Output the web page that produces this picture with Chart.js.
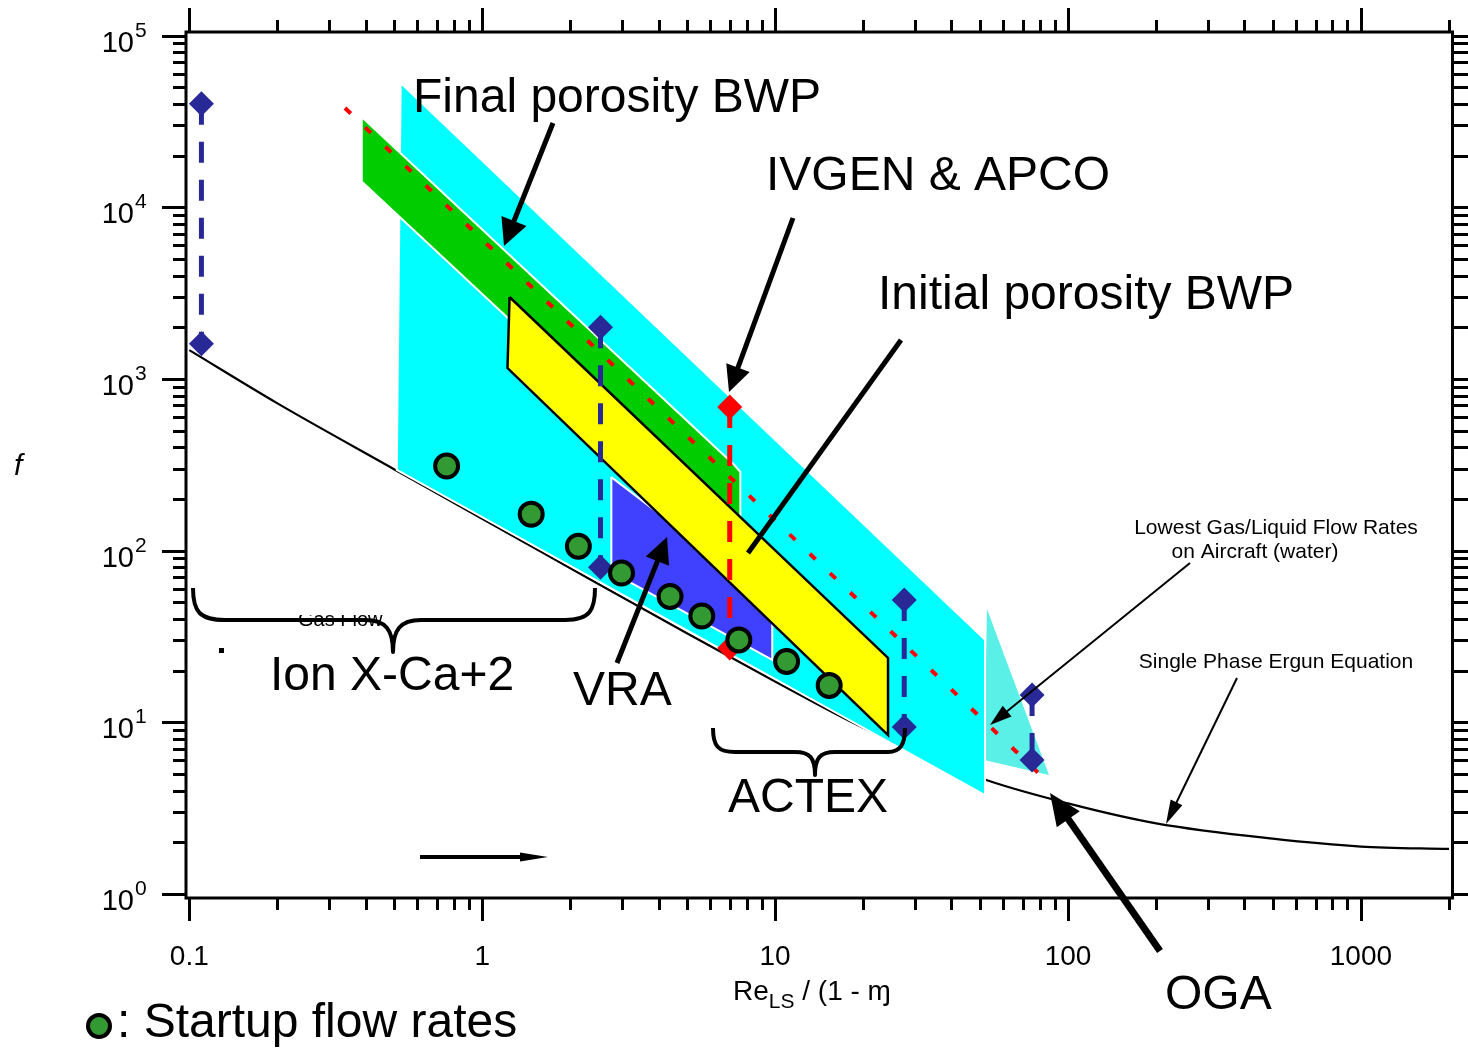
<!DOCTYPE html>
<html><head><meta charset="utf-8">
<script src="https://cdn.jsdelivr.net/npm/chart.js@4.4.0/dist/chart.umd.min.js"></script>
<style>html,body{margin:0;padding:0;background:#fff;overflow:hidden}canvas{display:block}</style>
</head><body>
<canvas id="c" width="1468" height="1049"></canvas>
<script>
// ---------- data ----------
const xTickValues = [0.1, 1, 10, 100, 1000];
const xTickLabels = ['0.1', '1', '10', '100', '1000'];
const yTickValues = [1, 10, 100, 1000, 10000, 100000];
const yTickExponents = ['0', '1', '2', '3', '4', '5'];

// Single phase Ergun equation
const ergunX = [0.1, 0.2, 0.5, 1, 2, 5, 10, 20, 50, 100, 200, 500, 1000, 2000];
const ergunF = [1470, 720, 298, 153, 79, 33, 17.3, 9.3, 4.75, 3.37, 2.58, 2.1, 1.89, 1.83];

// Startup flow rates (green circles)
const startupX = [0.756, 1.47, 2.13, 2.99, 4.38, 5.62, 7.52, 10.95, 15.3];
const startupF = [311, 163, 106, 74, 54, 41.6, 30.2, 22.6, 16.4];

// Cyan envelope region
const envelopeX = [0.527, 52.1, 52.1, 0.511];
const envelopeF = [52900, 30.2, 3.77, 295];

// OGA region (light cyan)
const ogaX = [52.9, 86.1, 51.7];
const ogaF = [45.7, 4.93, 6.03];

// Final porosity BWP (green band)
const finalPorosityX = [0.388, 7.26, 7.61, 7.61, 0.386];
const finalPorosityF = [33530, 315, 287, 123.3, 14210];

// VRA (blue region)
const vraX = [2.76, 9.78, 9.78, 2.76];
const vraF = [268, 51.6, 23.1, 75.0];

// Initial porosity BWP (yellow band)
const initialPorosityX = [1.24, 24.3, 24.3, 1.22];
const initialPorosityF = [3000, 23.7, 8.43, 1157];

// Lowest gas/liquid flow rates on aircraft (red dotted line)
const lowestFlowX = [0.34, 87.5];
const lowestFlowF = [37840, 4.31];

// Flow ranges (navy diamonds with dashed lines)
const ionRangeX = [0.11, 0.11];
const ionRangeF = [40000, 1600];
const vraRangeX = [2.535, 2.535];
const vraRangeF = [2000, 80];
const actexRangeX = [27.6, 27.6];
const actexRangeF = [51.6, 9.39];
const ogaRangeX = [75.4, 75.4];
const ogaRangeF = [14.4, 6.03];
// IVGEN & APCO (red diamonds)
const ivgenX = [7.0, 7.0];
const ivgenF = [686, 27.1];

// ---------- helpers ----------
const FONT = '"Liberation Sans", Arial, Helvetica, sans-serif';
const pts = (xs, ys) => xs.map((x, i) => ({x: x, y: ys[i]}));
const closed = (xs, ys) => { const p = pts(xs, ys); p.push(p[0]); return p; };
const NAVY = '#282896';

function polygon(data, fillColor, borderColor, borderWidth, order) {
  return {data, showLine: true, fill: 'shape', backgroundColor: fillColor,
    borderColor, borderWidth, pointRadius: 0, order, borderJoinStyle: 'miter', tension: 0};
}
function range(xs, ys, color, order) {
  return {data: pts(xs, ys), showLine: true, fill: false, borderColor: color, borderWidth: 5,
    borderDash: [21, 17], pointStyle: 'rectRot', pointRadius: 12.5, pointBackgroundColor: color,
    pointBorderWidth: 0, order};
}

const datasets = [
  {label: 'Ergun', data: pts(ergunX, ergunF), showLine: true, fill: false, borderColor: '#000',
    borderWidth: 2.2, pointRadius: 0, cubicInterpolationMode: 'monotone', order: 20},
  polygon(pts(ogaX, ogaF), '#5AF0E8', 'rgba(0,0,0,0)', 0, 19),
  polygon(closed(envelopeX, envelopeF), '#00FFFF', '#FFFFFF', 2, 18),
  polygon(closed(finalPorosityX, finalPorosityF), '#00CC00', '#FFFFFF', 2, 17),
  {data: pts(lowestFlowX, lowestFlowF), showLine: true, fill: false, borderColor: '#FF0000',
    borderWidth: 4, borderDash: [8, 20], pointRadius: 0, order: 16},
  polygon(closed(vraX, vraF), '#4040FF', '#FFFFFF', 2, 15),
  polygon(closed(initialPorosityX, initialPorosityF), '#FFFF00', '#000000', 2.5, 14),
  range(ionRangeX, ionRangeF, NAVY, 5),
  range(vraRangeX, vraRangeF, NAVY, 5),
  range(actexRangeX, actexRangeF, NAVY, 5),
  range(ogaRangeX, ogaRangeF, NAVY, 5),
  range(ivgenX, ivgenF, '#FF0000', 5),
  {data: pts(startupX, startupF), showLine: false, pointStyle: 'circle', pointRadius: 11.5,
    pointBackgroundColor: '#339933', pointBorderColor: '#000', pointBorderWidth: 4, order: 1}
];

function arrow(ctx, x1, y1, x2, y2, w, hl, hw) {
  const a = Math.atan2(y2 - y1, x2 - x1);
  const bx = x2 - hl * Math.cos(a), by = y2 - hl * Math.sin(a);
  ctx.lineWidth = w; ctx.lineCap = 'butt';
  ctx.beginPath(); ctx.moveTo(x1, y1); ctx.lineTo(bx + 2 * Math.cos(a), by + 2 * Math.sin(a)); ctx.stroke();
  ctx.beginPath(); ctx.moveTo(x2, y2);
  ctx.lineTo(bx + hw / 2 * Math.sin(a), by - hw / 2 * Math.cos(a));
  ctx.lineTo(bx - hw / 2 * Math.sin(a), by + hw / 2 * Math.cos(a));
  ctx.closePath(); ctx.fill();
}

const decorations = {
  id: 'decorations',
  afterDraw(chart) {
    const ctx = chart.ctx, xs = chart.scales.x, ys = chart.scales.y, a = chart.chartArea;
    ctx.save();
    ctx.strokeStyle = '#000'; ctx.fillStyle = '#000'; ctx.lineWidth = 3; ctx.lineCap = 'butt';
    ctx.strokeRect(a.left, a.top, a.right - a.left, a.bottom - a.top);

    // x ticks (major + minor), bottom and top, outward
    const xMinor = [];
    for (let d = 0.1; d < 2000; d *= 10) for (let k = 2; k <= 9; k++) if (k * d <= 2000.5) xMinor.push(k * d);
    ctx.beginPath();
    xTickValues.forEach(v => { const p = Math.round(xs.getPixelForValue(v)) + 0.5;
      ctx.moveTo(p, a.bottom); ctx.lineTo(p, a.bottom + 23); ctx.moveTo(p, a.top); ctx.lineTo(p, a.top - 24); });
    xMinor.forEach(v => { const p = Math.round(xs.getPixelForValue(v)) + 0.5;
      ctx.moveTo(p, a.bottom); ctx.lineTo(p, a.bottom + 12); ctx.moveTo(p, a.top); ctx.lineTo(p, a.top - 12); });
    // y ticks
    const yMinor = [];
    for (let d = 1; d < 100000; d *= 10) for (let k = 2; k <= 9; k++) yMinor.push(k * d);
    yTickValues.forEach(v => { const p = Math.round(ys.getPixelForValue(v)) + 0.5;
      ctx.moveTo(a.left, p); ctx.lineTo(a.left - 24, p); ctx.moveTo(a.right, p); ctx.lineTo(a.right + 16, p); });
    yMinor.forEach(v => { const p = Math.round(ys.getPixelForValue(v)) + 0.5;
      ctx.moveTo(a.left, p); ctx.lineTo(a.left - 13, p); ctx.moveTo(a.right, p); ctx.lineTo(a.right + 16, p); });
    ctx.stroke();

    // tick labels
    ctx.textAlign = 'center'; ctx.textBaseline = 'alphabetic';
    ctx.font = '28px ' + FONT;
    xTickValues.forEach((v, i) => ctx.fillText(xTickLabels[i], xs.getPixelForValue(v), 965));
    yTickValues.forEach((v, i) => {
      const p = ys.getPixelForValue(v);
      ctx.textAlign = 'right'; ctx.font = '29px ' + FONT; ctx.fillText('10', 134, p + 16);
      ctx.textAlign = 'left'; ctx.font = '21px ' + FONT; ctx.fillText(yTickExponents[i], 135, p + 1);
    });

    // axis titles
    ctx.textAlign = 'left';
    ctx.font = 'italic 30px ' + FONT; ctx.fillText('f', 14, 475);
    ctx.font = '28px ' + FONT; ctx.fillText('Re', 733, 1000);
    let wx = 733 + ctx.measureText('Re').width;
    ctx.font = '21px ' + FONT; ctx.fillText('LS', wx, 1008);
    wx += ctx.measureText('LS').width;
    ctx.font = '28px ' + FONT; ctx.fillText(' / (1 - \u0271', wx, 1000);

    // annotation texts
    ctx.font = '48px ' + FONT;
    ctx.fillText('Final porosity BWP', 413, 112);
    ctx.fillText('IVGEN & APCO', 766, 190);
    ctx.fillText('Initial porosity BWP', 878, 309);
    ctx.fillText('Ion X-Ca+2', 270, 690);
    ctx.fillText('VRA', 573, 705);
    ctx.fillText('ACTEX', 728, 812);
    ctx.fillText('OGA', 1165, 1009);
    ctx.fillText(': Startup flow rates', 117, 1037);
    ctx.font = '21px ' + FONT; ctx.textAlign = 'center';
    ctx.fillText('Lowest Gas/Liquid Flow Rates', 1276, 534);
    ctx.fillText('on Aircraft (water)', 1255, 558);
    ctx.fillText('Single Phase Ergun Equation', 1276, 668);

    // partially hidden "Gas Flow" label
    ctx.save(); ctx.beginPath(); ctx.rect(290, 615, 100, 16); ctx.clip();
    ctx.font = '20px ' + FONT; ctx.textAlign = 'left'; ctx.fillText('Gas Flow', 298, 626);
    ctx.restore();
    ctx.fillRect(219, 648, 5, 5);

    // legend marker
    ctx.beginPath(); ctx.arc(99, 1026, 11, 0, Math.PI * 2);
    ctx.fillStyle = '#339933'; ctx.fill(); ctx.lineWidth = 4; ctx.strokeStyle = '#000'; ctx.stroke();
    ctx.fillStyle = '#000';

    // arrows
    arrow(ctx, 553, 123, 504, 246, 5, 27, 27);
    arrow(ctx, 793, 218, 729, 392, 5, 26, 25);
    arrow(ctx, 617, 663, 667, 537, 5, 26, 25);
    arrow(ctx, 1160, 951, 1050, 793, 7, 32, 28);
    arrow(ctx, 1190, 563, 990, 725, 2, 22, 14);
    arrow(ctx, 1237, 678, 1166, 824, 2, 24, 13);
    arrow(ctx, 420, 857, 548, 857, 4, 28, 9);
    ctx.lineWidth = 5; ctx.beginPath(); ctx.moveTo(901, 340); ctx.lineTo(748, 553); ctx.stroke();

    // braces
    ctx.lineWidth = 4; ctx.lineJoin = 'round';
    ctx.beginPath();
    ctx.moveTo(193, 588); ctx.bezierCurveTo(193, 612, 200, 620, 225, 620);
    ctx.lineTo(365, 620); ctx.bezierCurveTo(386, 620, 393, 630, 393, 652);
    ctx.bezierCurveTo(393, 630, 400, 620, 421, 620);
    ctx.lineTo(565, 620); ctx.bezierCurveTo(590, 620, 595, 610, 595, 588);
    ctx.stroke();
    ctx.beginPath();
    ctx.moveTo(713, 728); ctx.bezierCurveTo(713, 746, 718, 752, 735, 752);
    ctx.lineTo(795, 752); ctx.bezierCurveTo(810, 752, 815, 758, 815, 775);
    ctx.bezierCurveTo(815, 758, 820, 752, 835, 752);
    ctx.lineTo(888, 752); ctx.bezierCurveTo(900, 752, 905, 745, 905, 728);
    ctx.stroke();
    ctx.restore();
  }
};

new Chart(document.getElementById('c'), {
  type: 'scatter',
  data: {datasets},
  options: {
    responsive: false, animation: false, devicePixelRatio: 1, events: [],
    layout: {padding: {left: 186, right: 14, top: 32, bottom: 151}},
    scales: {
      x: {type: 'logarithmic', min: 0.09744, max: 2055, display: false},
      y: {type: 'logarithmic', min: 0.9478, max: 104810, display: false}
    },
    plugins: {legend: {display: false}, tooltip: {enabled: false}}
  },
  plugins: [decorations]
});
</script>
</body></html>
